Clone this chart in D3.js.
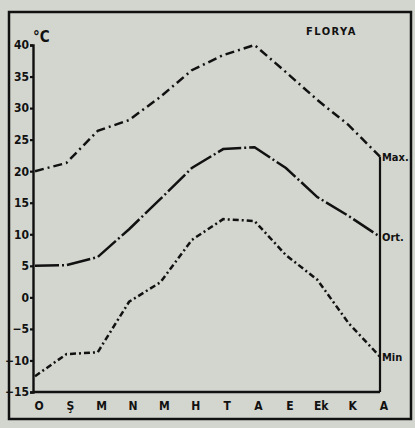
<!DOCTYPE html>
<html>
<head>
<meta charset="utf-8">
<script src="https://cdn.jsdelivr.net/npm/d3@7"></script>
<style>
body { margin: 0; background: #d3d6cf; }
text { font-family: "DejaVu Sans Condensed", "DejaVu Sans", sans-serif; font-weight: bold; fill: #111; }
</style>
</head>
<body>
<svg width="415" height="428"></svg>
<script>
var months = ["O", "Ş", "M", "N", "M", "H", "T", "A", "E", "Ek", "K", "A"];
var maxTemp = [20, 21.3, 26.4, 28.1, 31.8, 36, 38.4, 40, 35.7, 31.3, 27.3, 22.3];
var meanTemp = [5, 5.1, 6.4, 10.8, 15.6, 20.5, 23.5, 23.8, 20.5, 15.9, 12.9, 9.6];
var minTemp = [-12.5, -9, -8.7, -0.7, 2.4, 9.1, 12.4, 12.1, 6.7, 2.8, -4.1, -9.4];
var yTicks = [40, 35, 30, 25, 20, 15, 10, 5, 0, -5, -10, -15];

var svg = d3.select("svg"),
width = +svg.attr("width"),
height = +svg.attr("height");

svg.append("rect")
.attr("width", width)
.attr("height", height)
.style("fill", "#d3d6cf");

// outer frame
svg.append("rect")
.attr("x", 9)
.attr("y", 12)
.attr("width", 402)
.attr("height", 407)
.style("fill", "none")
.style("stroke", "#111")
.style("stroke-width", 2.5);

var x = d3.scaleLinear().domain([0, 11]).range([35, 380]);
var y = d3.scaleLinear().domain([-15, 40]).range([392, 45]);

// y axis
var yAxis = svg.append("g")
.attr("transform", "translate(33,0)")
.call(d3.axisLeft(y).tickValues(yTicks).tickSize(3).tickFormat(d3.format("d")));
yAxis.select(".domain").style("stroke", "#111").style("stroke-width", 2.4);
yAxis.selectAll(".tick line").style("stroke", "#111").style("stroke-width", 2.2);
yAxis.selectAll(".tick text")
.attr("x", -4)
.style("font-size", "12px")
.style("font-family", "'DejaVu Sans Condensed', sans-serif")
.style("font-weight", "bold")
.style("fill", "#111");

svg.append("text")
.attr("x", 33)
.attr("y", 42)
.style("font-size", "15px")
.text("°C");

// bottom axis line
svg.append("line")
.attr("x1", 33).attr("x2", x(11))
.attr("y1", y(-15)).attr("y2", y(-15))
.style("stroke", "#111").style("stroke-width", 2.4);

// right line
svg.append("line")
.attr("x1", x(11)).attr("x2", x(11))
.attr("y1", y(maxTemp[11])).attr("y2", y(-15))
.style("stroke", "#111").style("stroke-width", 2.2);

svg.append("g")
.selectAll("text")
.data(months)
.enter().append("text")
.attr("x", function(d, i) { return x(i) + 4; })
.attr("y", 410)
.attr("text-anchor", "middle")
.style("font-size", "12px")
.text(function(d) { return d; });

var line = d3.line()
.x(function(d, i) { return x(i); })
.y(function(d) { return y(d); });

var series = [
  { values: maxTemp, dash: "9,4,2,4", label: "Max." },
  { values: meanTemp, dash: "24,3,2,3", label: "Ort." },
  { values: minTemp, dash: "6,3,2,3", label: "Min" }
];

svg.append("g")
.selectAll("path")
.data(series)
.enter().append("path")
.attr("d", function(d) { return line(d.values); })
.style("fill", "none")
.style("stroke", "#111")
.style("stroke-width", 2.5)
.style("stroke-dasharray", function(d) { return d.dash; });

svg.append("g")
.selectAll("text")
.data(series)
.enter().append("text")
.attr("x", x(11) + 2)
.attr("y", function(d) { return y(d.values[11]) + 4; })
.style("font-size", "11px")
.text(function(d) { return d.label; });

svg.append("text")
.attr("x", 306)
.attr("y", 35)
.style("font-size", "11px")
.style("letter-spacing", "1.5px")
.text("FLORYA");
</script>
</body>
</html>
